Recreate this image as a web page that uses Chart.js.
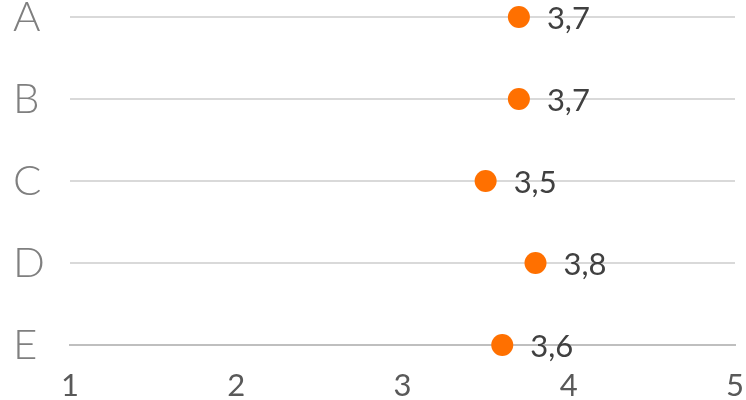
<!DOCTYPE html>
<html>
<head>
<meta charset="utf-8">
<script src="https://cdn.jsdelivr.net/npm/chart.js@4/dist/chart.umd.min.js"></script>
<style>
  html, body { margin: 0; padding: 0; background: #fff; }
  #wrap { width: 746px; height: 400px; position: relative; }
</style>
</head>
<body>
<div id="wrap"><canvas id="grafico"></canvas></div>
<script>
const categorias = ["A", "B", "C", "D", "E"];
const valores = [3.7, 3.7, 3.5, 3.8, 3.6];
const marcasX = [1, 2, 3, 4, 5];

// etiquetas de valor a la derecha de cada punto
const etiquetasValor = {
    id: "etiquetasValor",
    afterDatasetsDraw(chart) {
        const ctx = chart.ctx;
        const meta = chart.getDatasetMeta(0);
        ctx.save();
        ctx.font = "31px Lato";
        ctx.fillStyle = "#404040";
        ctx.textAlign = "left";
        ctx.textBaseline = "middle";
        meta.data.forEach((punto, i) => {
            const texto = String(valores[i]).replace(".", ",");
            ctx.fillText(texto, punto.x + 28, punto.y + 2);
        });
        ctx.restore();
    }
};

new Chart(document.getElementById("grafico"), {
    type: "line",
    data: {
        labels: categorias,
        datasets: [{
            data: valores,
            showLine: false,
            pointRadius: 11,
            pointHoverRadius: 11,
            pointBackgroundColor: "#ff7000",
            pointBorderWidth: 0,
            borderColor: "#ff7000"
        }]
    },
    options: {
        indexAxis: "y",
        responsive: true,
        maintainAspectRatio: false,
        animation: false,
        layout: { padding: { top: 17, right: 9, left: 13, bottom: 0 } },
        plugins: {
            legend: { display: false },
            tooltip: { enabled: false }
        },
        scales: {
            x: {
                type: "linear",
                min: 1,
                max: 5,
                afterBuildTicks: scale => {
                    scale.ticks = marcasX.map(v => ({ value: v }));
                },
                afterFit: scale => {
                    scale.height = 55;
                    scale.paddingLeft = 0;
                    scale.paddingRight = 0;
                },
                ticks: {
                    color: "#595959",
                    padding: 25,
                    maxRotation: 0,
                    font: { family: "Lato", size: 31, lineHeight: 1 }
                },
                grid: { display: false, drawTicks: false },
                border: { display: true, color: "#bfbfbf", width: 2 }
            },
            y: {
                type: "category",
                offset: false,
                afterFit: scale => {
                    scale.width = 57;
                    scale.paddingTop = 0;
                    scale.paddingBottom = 0;
                },
                ticks: {
                    color: "#7f7f7f",
                    padding: 0,
                    crossAlign: "far",
                    font: { family: "Lato", size: 42, weight: 300, lineHeight: 1 }
                },
                grid: {
                    drawTicks: false,
                    lineWidth: 2,
                    color: c => c.index === categorias.length - 1 ? "#bfbfbf" : "#d9d9d9"
                },
                border: { display: false }
            }
        }
    },
    plugins: [etiquetasValor]
});
</script>
</body>
</html>
